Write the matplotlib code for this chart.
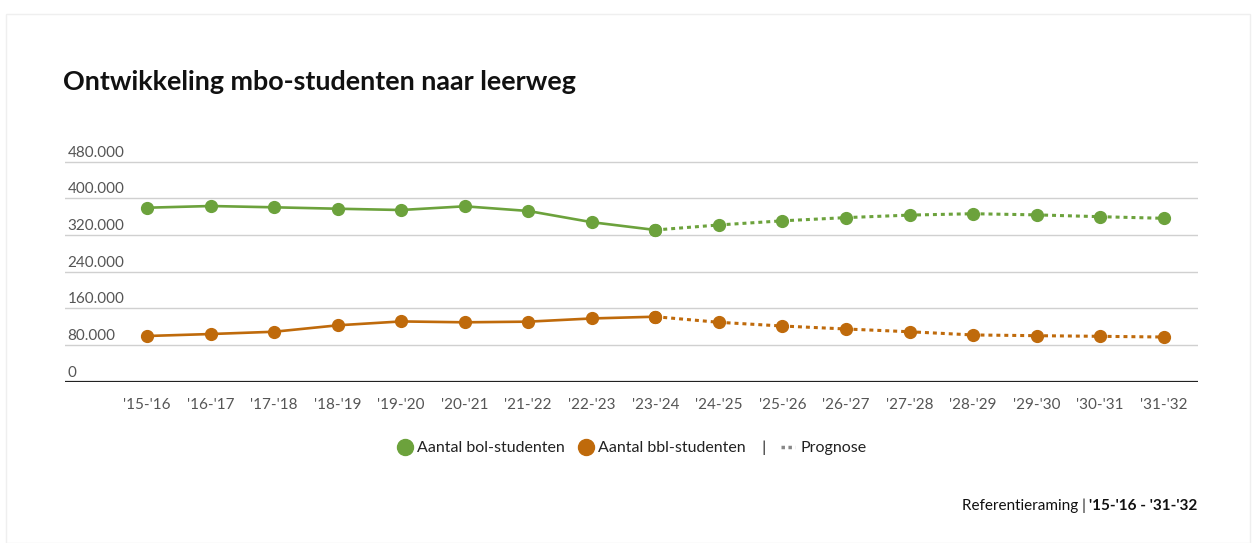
import numpy as np
import matplotlib.pyplot as plt
from matplotlib.lines import Line2D
from matplotlib.patches import FancyBboxPatch

plt.rcParams['font.family'] = ['Lato', 'DejaVu Sans']

years = ["'15-'16", "'16-'17", "'17-'18", "'18-'19", "'19-'20", "'20-'21", "'21-'22",
         "'22-'23", "'23-'24", "'24-'25", "'25-'26", "'26-'27", "'27-'28", "'28-'29",
         "'29-'30", "'30-'31", "'31-'32"]
bol = [379600, 383300, 380500, 377400, 374600, 382700, 372500, 348000, 331000,
       342000, 351000, 358000, 363500, 366500, 364000, 360000, 356500]
bbl = [99700, 104000, 109000, 123000, 131500, 129600, 131000, 138000, 141800,
       129600, 121500, 115000, 109000, 102000, 100400, 99000, 97500]
yticks = [0, 80000, 160000, 240000, 320000, 400000, 480000]
last_actual = 8  # '23-'24, prognose daarna

green = '#6ca23c'
orange = '#bf6a0b'

W, H = 1254, 543
fig = plt.figure(figsize=(W / 100, H / 100), dpi=100)

# card background
card = FancyBboxPatch((6 / W, 0), 1244 / W, (H - 14) / H, boxstyle='square,pad=0',
                      transform=fig.transFigure, facecolor='white', edgecolor='#efefef',
                      lw=1, zorder=-10)
fig.patches.append(card)

ax = fig.add_axes([65 / W, 1 - 381.7 / H, (1198 - 65) / W, (381.7 - 150) / H])
ax.patch.set_alpha(0)
x = np.arange(len(years))

ax.plot(x[:last_actual + 1], bol[:last_actual + 1], color=green, lw=1.9, marker='o', ms=8.5, zorder=3)
ax.plot(x[last_actual:], bol[last_actual:], color=green, lw=2.2, ls=(0, (1.3, 1.3)), marker='o', ms=8.5, zorder=3)
ax.plot(x[:last_actual + 1], bbl[:last_actual + 1], color=orange, lw=1.9, marker='o', ms=8.5, zorder=3)
ax.plot(x[last_actual:], bbl[last_actual:], color=orange, lw=2.2, ls=(0, (1.3, 1.3)), marker='o', ms=8.5, zorder=3)

ax.set_xlim(-1.29, 16.54)
ax.set_ylim(0, (381.7 - 150) * 480000 / 220)
for t in yticks[1:]:
    ax.axhline(t, color='#d0d0d0', lw=1, zorder=1)
    ax.text(-1.25, t + 4500, f"{t:,}".replace(',', '.'), fontsize=11, color='#555555',
            ha='left', va='bottom')
ax.text(-1.25, 4500, '0', fontsize=11, color='#555555', ha='left', va='bottom')
ax.axhline(0, color='#222222', lw=1.6, zorder=2)

ax.set_yticks([])
ax.set_xticks(x)
ax.set_xticklabels(years, fontsize=11, color='#555555')
ax.tick_params(axis='x', length=0, pad=12)
for s in ax.spines.values():
    s.set_visible(False)

fig.text(63 / W, 1 - 82 / H, 'Ontwikkeling mbo-studenten naar leerweg', fontsize=19.4,
         fontweight='bold', color='#111111', ha='left', va='center')

handles = [
    Line2D([], [], ls='none', marker='o', color=green, ms=11.5),
    Line2D([], [], ls='none', marker='o', color=orange, ms=11.5),
    Line2D([], [], ls=(0, (1, 1)), color='#888888', lw=2.5),
]
labels = ['Aantal bol-studenten', 'Aantal bbl-studenten    |', 'Prognose']
fig.legend(handles, labels, loc='center', bbox_to_anchor=(632 / W, 1 - 448 / H), ncol=3,
           frameon=False, fontsize=11.5, handlelength=0.9, handletextpad=0.3,
           columnspacing=0.9, labelcolor='#222222')

bold = fig.text(1197 / W, 1 - 506 / H, "'15-'16 - '31-'32", fontsize=11, fontweight='bold',
                color='#111111', ha='right', va='center')
fig.canvas.draw()
bb = bold.get_window_extent(fig.canvas.get_renderer())
fig.text((bb.x0 - 3) / W, 1 - 506 / H, 'Referentieraming |', fontsize=11,
         color='#111111', ha='right', va='center')

fig.savefig('out.png', dpi=100)
